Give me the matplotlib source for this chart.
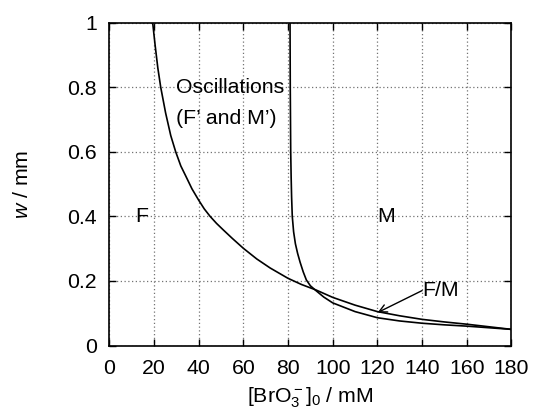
import matplotlib
matplotlib.use("Agg")
import matplotlib.pyplot as plt

plt.rcParams['font.family'] = ['Liberation Sans', 'DejaVu Sans']
plt.rcParams['mathtext.fontset'] = 'custom'
plt.rcParams['mathtext.rm'] = 'Liberation Sans'
plt.rcParams['mathtext.it'] = 'Liberation Sans:italic'

# F boundary (front regime)
f_x = [19.4, 20.5, 21.7, 23.0, 25.2, 27.5, 29.7, 32.0, 34.2, 37.0, 40.0, 42.5,
       45.1, 48.0, 51.0, 55.0, 60.0, 66.0, 72.0, 80.0, 86.0, 92.5, 100.0, 110.0,
       120.0, 130.0, 140.0, 150.0, 160.0, 170.0, 180.0]
f_w = [1.00, 0.93, 0.86, 0.80, 0.72, 0.65, 0.60, 0.556, 0.525, 0.485, 0.450, 0.423,
       0.400, 0.378, 0.358, 0.332, 0.301, 0.268, 0.240, 0.208, 0.189, 0.172, 0.149, 0.125,
       0.105, 0.092, 0.081, 0.073, 0.066, 0.058, 0.050]

# M boundary
m_x = [80.9, 81.0, 81.2, 81.4, 81.6, 81.9, 82.5, 83.3, 84.3, 85.4, 86.8, 88.2, 90.0,
       92.5, 96.0, 100.0, 110.0, 120.0, 130.0, 140.0, 150.0, 160.0, 170.0, 180.0]
m_w = [1.00, 0.80, 0.60, 0.52, 0.46, 0.40, 0.352, 0.315, 0.285, 0.258, 0.228, 0.203, 0.185,
       0.170, 0.150, 0.132, 0.105, 0.086, 0.076, 0.069, 0.064, 0.060, 0.055, 0.050]

x_ticks = [0, 20, 40, 60, 80, 100, 120, 140, 160, 180]
y_ticks = [0, 0.2, 0.4, 0.6, 0.8, 1]
y_labels = ['0', '0.2', '0.4', '0.6', '0.8', '1']

fs = 15.3
fig = plt.figure(figsize=(5.33, 4.13), dpi=100)
ax = fig.add_axes([0.2051, 0.1634, 0.7544, 0.7821])

ax.plot(f_x, f_w, color='k', lw=1.2)
ax.plot(m_x, m_w, color='k', lw=1.2)

ax.set_xlim(0, 180)
ax.set_ylim(0, 1)
ax.set_xticks(x_ticks)
ax.set_yticks(y_ticks)
ax.set_yticklabels(y_labels)
ax.grid(True, color='0.45', linestyle=(0, (1, 2)), lw=0.9)
ax.tick_params(direction='in', top=True, right=True, length=5, width=1,
               labelsize=fs)
ax.tick_params(axis='x', pad=10)
ax.tick_params(axis='y', pad=9)
for s in ax.spines.values():
    s.set_linewidth(1.2)

ax.set_xlabel(r'[BrO$_3^-$]$_0$ / mM', fontsize=fs, labelpad=5)
ax.set_ylabel(r'$w$ / mm', fontsize=fs, labelpad=25)

ax.text(14.5, 0.4, 'F', fontsize=fs, ha='center', va='center')
ax.text(124, 0.4, 'M', fontsize=fs, ha='center', va='center')
ax.text(29.8, 0.80, 'Oscillations', fontsize=fs, ha='left', va='center')
ax.text(29.8, 0.703, '(F\u2019 and M\u2019)', fontsize=fs, ha='left', va='center')
ax.text(140, 0.17, 'F/M', fontsize=fs, ha='left', va='center')
ax.annotate('', xy=(120.1, 0.102), xytext=(140, 0.17),
            arrowprops=dict(arrowstyle='->', color='k', lw=1,
                            shrinkA=0, shrinkB=0, mutation_scale=14))

fig.savefig('out.png', dpi=100)
